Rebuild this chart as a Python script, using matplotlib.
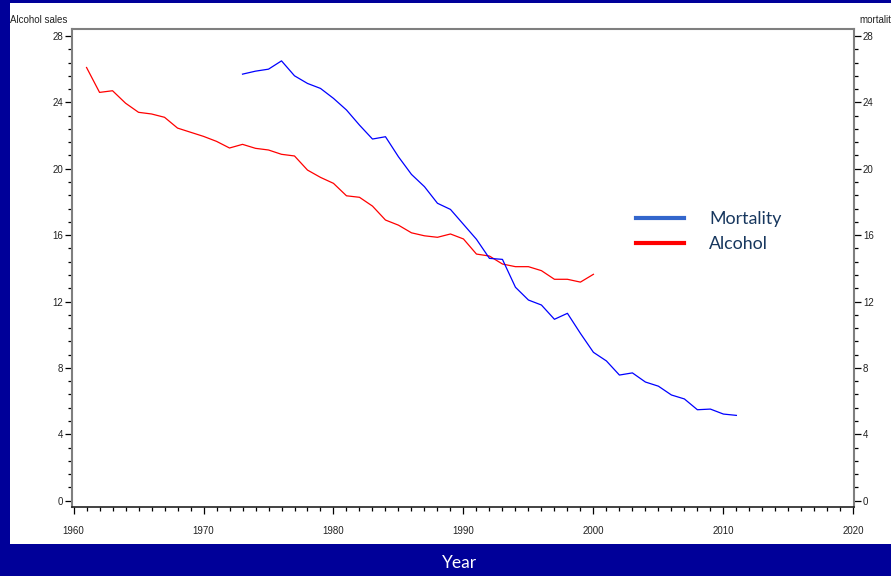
import matplotlib
matplotlib.use("Agg")
import matplotlib.pyplot as plt
from matplotlib.lines import Line2D
from matplotlib.patches import Rectangle
from matplotlib.ticker import MultipleLocator

# alcohol sales (red), 1961-2000
alcohol_years = list(range(1961, 2001))
alcohol = [26.1, 24.6, 24.7, 23.95, 23.4, 23.3, 23.1, 22.45, 22.2, 21.95,
           21.65, 21.25, 21.47, 21.23, 21.13, 20.87, 20.77, 19.92, 19.48, 19.12,
           18.37, 18.28, 17.75, 16.91, 16.6, 16.14, 15.96, 15.87, 16.07, 15.77,
           14.86, 14.74, 14.26, 14.1, 14.1, 13.86, 13.34, 13.34, 13.17, 13.64]

# mortality (blue), 1973-2011
mortality_years = list(range(1973, 2012))
mortality = [25.7, 25.88, 26.0, 26.5, 25.6, 25.14, 24.84, 24.24, 23.54, 22.63,
             21.79, 21.93, 20.72, 19.66, 18.92, 17.92, 17.55, 16.65, 15.75, 14.6,
             14.54, 12.86, 12.09, 11.79, 10.93, 11.29, 10.08, 8.94, 8.42, 7.57,
             7.7, 7.15, 6.9, 6.37, 6.13, 5.48, 5.52, 5.22, 5.14]

x_ticks = [1960, 1970, 1980, 1990, 2000, 2010, 2020]
y_ticks = [0, 4, 8, 12, 16, 20, 24, 28]

BG_BLUE = "#000099"

fig = plt.figure(figsize=(8.91, 5.76), dpi=100)
fig.patch.set_facecolor(BG_BLUE)

# white slide panel (behind the axes)
panel = Rectangle((10 / 891, 1 - 544 / 576), 1, (544 - 3) / 576,
                  transform=fig.transFigure, facecolor="white",
                  edgecolor="none", zorder=-10)
fig.patches.append(panel)

ax = fig.add_axes([72 / 891, 1 - 507 / 576, (854 - 72) / 891, (507 - 29) / 576])
ax.set_zorder(1)
ax.set_facecolor("white")

ax.plot(alcohol_years, alcohol, color="#ff0000", lw=0.9)
ax.plot(mortality_years, mortality, color="#0000ff", lw=0.9)

ax.set_xlim(1959.88, 2020.05)
ax.set_ylim(-0.38, 28.42)
ax.set_xticks(x_ticks)
ax.set_yticks(y_ticks)
ax.xaxis.set_minor_locator(MultipleLocator(1))
ax.yaxis.set_minor_locator(MultipleLocator(0.8))

ax.tick_params(axis="both", which="major", labelsize=7, length=5, width=0.9,
               color="black", labelcolor="#222222")
ax.tick_params(axis="both", which="minor", length=3, width=0.9, color="black")
ax.tick_params(axis="y", which="both", left=True, right=True,
               labelleft=True, labelright=True, pad=1.5)
ax.tick_params(axis="x", which="major", pad=9)

for side in ["left", "right", "top"]:
    ax.spines[side].set_color("#7f7f7f")
    ax.spines[side].set_linewidth(1.5)
ax.spines["bottom"].set_color("#222222")
ax.spines["bottom"].set_linewidth(1.2)

for lab in ax.get_xticklabels() + ax.get_yticklabels():
    lab.set_fontfamily("Liberation Sans")

fig.text(10 / 891, 1 - 20 / 576, "Alcohol sales", fontsize=7,
         family="Liberation Sans", color="#222222", va="center", ha="left")
fig.text(859 / 891, 1 - 20 / 576, "mortality", fontsize=7,
         family="Liberation Sans", color="#222222", va="center", ha="left")

# legend
handles = [Line2D([], [], color="#3366cc", lw=3),
           Line2D([], [], color="#ff0000", lw=3)]
leg = ax.legend(handles, ["Mortality", "Alcohol"], loc="upper left",
                bbox_to_anchor=(620 / 891, 1 - 195 / 576),
                bbox_transform=fig.transFigure, frameon=False,
                handlelength=2.7, handletextpad=1.4, labelspacing=0.5,
                prop={"family": "Lato", "size": 12.8})
for t in leg.get_texts():
    t.set_color("#17375e")

fig.text(460 / 891, 1 - 563 / 576, "Year", fontsize=12.5, family="Lato",
         color="white", ha="center", va="center")

fig.savefig("out.png", dpi=100, facecolor=BG_BLUE)
